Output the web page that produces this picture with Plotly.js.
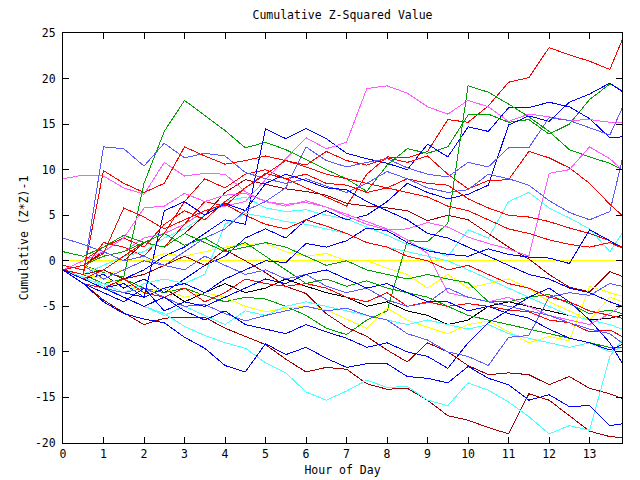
<!DOCTYPE html>
<html><head><meta charset="utf-8">
<script src="https://cdn.plot.ly/plotly-3.0.1.min.js"></script>
<style>
html,body{margin:0;padding:0;background:#fff;}
#chart{width:640px;height:480px;}
.scatterlayer path.js-line{shape-rendering:crispEdges;}
</style></head><body><div id="chart"></div>
<script>
const hours = [0,0.5,1,1.5,2,2.5,3,3.5,4,4.5,5,5.5,6,6.5,7,7.5,8,8.5,9,9.5,10,10.5,11,11.5,12,12.5,13,13.5,13.8];
const xTickVals = [0,1,2,3,4,5,6,7,8,9,10,11,12,13];
const xTickText = ['0','1','2','3','4','5','6','7','8','9','10','11','12','13'];
const yTickVals = [-20,-15,-10,-5,0,5,10,15,20,25];
const yTickText = ['-20','-15','-10','-5','0','5','10','15','20','25'];

const yellowZero = [0,0,0,0,0,0,0,0,0,0,0,0,0,0,0,0,0,0,0,0,0,0,0,0,0,0,0,0,0];
const redTop = [-0.5,-1,2,1.5,0.5,3,6.5,9,8,9.5,10,9,8,7,6,9.5,11.4,11.3,12,15.5,15.2,17,19.6,20.1,23.4,22.6,21.9,21,24.2];
const magHigh = [-1,-0.5,0.5,1,2.5,3,4,5.5,6,6.5,8.9,11.2,13.5,12.3,13,18.9,19.2,18.4,16.9,16.1,17.6,16.9,15.3,16.1,15.8,15.4,15.5,15.2,15.2];
const greenHigh = [-1,-0.5,-1.3,-1.8,8.5,14.2,17.6,16,14.3,12.4,13,12.2,11.1,10,9,7.6,10.5,12.3,11.8,12.5,16,16.1,15.2,15.5,13.9,15,17.7,19.4,18.7];
const greenPeak = [-1,-1.5,-2.5,-2,-3,-3.5,-3,-3.8,-4.5,-4,-4.2,-5,-6,-7.4,-8.1,-6.5,-5.5,2.2,2.1,4.1,19.2,18.5,17.2,15.8,14.2,12.2,11.4,10.7,10];
const blueLow = [-1,-2.5,-4.5,-5.8,-6.4,-6.8,-8.4,-9.6,-11.5,-12.2,-9.1,-10.3,-9.5,-10.7,-11.7,-11.3,-11.3,-12.7,-12.9,-13.4,-11.6,-12.9,-13.6,-15.3,-14.7,-16,-15.9,-18.1,-17.9];
const cyanLow = [-1,-1.8,-2.8,-4,-5,-5.8,-7.2,-8.2,-9,-9.6,-11.2,-12.3,-14.4,-15.3,-14.3,-13.1,-13.9,-13.8,-15.3,-15.9,-13.4,-14.2,-15.5,-17.1,-19,-18.1,-18.6,-10.5,-8.7];
const darkRedLow = [-1,-2.5,-4.3,-5.7,-7,-6.3,-6.2,-6.2,-7.4,-8.3,-9.2,-10.8,-12.2,-11.7,-11.9,-13.5,-14.1,-14,-15.3,-17,-17.5,-18.3,-19,-14.6,-15.3,-17,-18.7,-19.3,-19.4];
const darkRed2 = [-1,-1.5,-1,-2,-1.5,-0.5,0.5,-0.5,1.2,0,-1.3,-2.8,-3.6,-5.8,-7.3,-8.3,-9.8,-11.1,-9,-10,-11.5,-12.5,-12.3,-12.5,-13.6,-12.7,-14,-14.6,-15.1];
const darkRedMid = [-1,-0.5,1,0,2,1.5,3,5,7.5,8.9,8.4,7.9,7.6,7.2,6.3,6,5.8,5.5,4.4,5,4.5,3,1.5,0.2,-1.5,-2.9,-3.4,-1.2,-1.7];
const blueA = [-1,-2,-1.5,-3,-2,-3.5,-2,-0.5,0.5,2.5,3.5,2.5,4.5,5.5,4.5,5,6.5,8.5,7.5,6.8,7.3,8.3,14.9,15.9,15.3,17.4,18.3,19.5,18.6];
const blueB = [-1,-1.5,-2.5,-2,-1,0.5,1.5,3,4.5,4,14.5,13.4,14.5,13.4,11.8,11.2,10.7,10,12.8,11.4,14.7,14.2,16.8,16.8,17.4,16.9,15.6,13.5,13.6];
const lightBlue1 = [-1,-1.5,12.5,12.3,10.4,12.9,11.3,11.8,11.5,9.7,9,8.5,9,8.2,7.5,8.5,9.8,9,8,7.5,7.8,9.5,9,8.3,6.6,5.3,4.5,5.4,11];
const lightBlue2 = [-1,-0.5,-2,-1,0,-0.5,1,2.5,3.5,5.5,6.5,8,12.5,11,10.3,10.8,11.2,10.2,9.5,9.2,10.8,10.3,12.4,12.4,15.7,15.4,14.6,13.8,16.7];
const magStart9 = [9,9.4,9.3,8,7.3,10.8,9.3,9.6,9.5,7.6,6.5,6.2,6.4,5.9,4.9,4,3.4,3.5,4.2,3.7,2.6,1.9,1.3,0.5,9.6,10,12.5,11.2,10];
const magMid = [-1,0,1,2.5,5.8,6,7.4,6.5,7.2,7.4,6.5,6,6.6,5.9,5.1,4.3,3.5,2.3,0.8,-3.5,-4,-4.5,-4,-5,-6,-6.5,-7,-5.8,-4.9];
const cyanA = [-1,-1.5,-0.5,0.5,1,2.5,3.5,5,6.5,7,5.8,5.4,5.6,5,4.6,3.7,2.8,1.8,1.3,0.5,3.4,2.5,6.5,7.5,5.8,4.7,3.5,1,3];
const cyanB = [-1,-2,-2.5,-3.5,-2.5,-2,-2.5,-1.5,4,5.2,4.8,4.3,4,3.5,3,2,1.5,1,0.5,0,-1,-2,-3,-4,-5,-6,-6.5,-7,-7.5];
const cyanC = [-1,-2,-3,-4,-5,-6,-5,-6,-7,-5.5,-6,-5,-4.5,-5,-5.5,-6,-6.5,-7,-6.5,-7,-7.5,-7,-8,-8.5,-9,-9.5,-9,-10,-9.5];
const redB = [-1,0,1.5,2.5,1.5,4,5.5,4.5,6.5,8,9.5,11,10.5,12,11,10.5,11.3,10.8,11.5,9.5,7.9,8.8,8.9,12,11.3,10.2,8.5,6.2,5];
const redC = [-1,-2,-1,0.5,2,1.5,4,6.5,6,8,9.6,9,9.5,8.5,8.3,7.5,8,9,8.5,8.3,6.8,5.8,5,4.8,4.3,3.6,3,2.2,1.5];
const redD = [-1,-2.5,-3,-2,-3.5,-4,-3,-4.5,-3.5,-2,-2.5,-2.8,-2.5,-3,-4,-4.5,-3.5,-5,-4.5,-5,-4.7,-5,-5.4,-5.6,-6.5,-6.8,-7.8,-7.6,-8.3];
const redE = [-1,-1.5,9.9,8.5,7.5,8.5,12.5,11.5,10.6,11,11.5,11,10.3,9.5,9,8.5,8,7.5,7,6,5.5,4.5,3.5,3,2.3,1.8,1.5,2,1.4];
const redF = [-1,-0.5,0.8,5.8,4.8,3.5,4.5,5.5,6.2,5,4,3.5,4.5,3.8,3,2,1.5,0.5,0,-1,-0.5,-1.5,-2.5,-3,-4,-4.5,-5.5,-6,-6.3];
const greenC = [-1,-0.5,0.5,1,2,1.5,3,2,1,1.5,2,1.5,0.5,-0.5,0,-1,-1.5,-2,-1.5,-2,-2.4,-4.5,-4.5,-4,-3.7,-4.7,-5.8,-5.4,-5.8];
const greenE = [1,0.5,1.5,2.8,2,3,1.7,2.5,1.2,2,0.5,-1,-2.5,-2,-2.8,-2.2,-3,-3.5,-4,-5,-6,-6.5,-7,-7.5,-8,-8.5,-9,-9.5,-9.5];
const blackLine = [-1,-1.5,-2.5,-2,-3.5,-3,-4.5,-3.5,-2.5,-3.5,-3,-2,-2.8,-3.5,-4,-5,-4.5,-5.5,-6,-7,-6.5,-5,-4.5,-5,-5.5,-6,-6.5,-6.3,-6];
const yellowB = [-1,-1.5,-2,-2.5,-3.5,-3,-4,-3.5,-4,-5,-5.6,-5.2,-5,-5.4,-6.4,-7.4,-5.2,-6.5,-7.3,-8,-7,-6.6,-7.8,-9,-8.3,-8.8,-2.8,-3.5,-3.9];
const yellowC = [-1,-0.5,-1.5,-1,0,0.8,0.5,1,1.5,1.8,1.9,1,0.5,0.8,0,0,-0.8,-1.5,-3,-1.5,-3,-2.5,-2,-3,-4.5,-5.5,-6.5,-4,-4.5];
const blueC = [-1,-2,-3,-3.5,-4,5.5,6.5,5,6.3,5.5,8.5,9.5,8.8,8,7.8,6.5,5.5,4.5,3,2.5,1.5,0.5,-0.5,-1.5,-2,-3,-3.5,-4.5,-5];
const blueD = [-1,-2,-3,-2.5,-4,-3,-2.5,-3.5,-2,-1,0,-0.2,1.9,1.5,2.2,3.6,3.3,2,1.1,0.7,0.5,1.3,0.7,0.4,0.3,-0.3,3.4,2.2,1.4];
const blueF = [-1,-2,-3,-4,-5,-4,-5.5,-6.5,-5.5,-7,-7.5,-8,-7,-7.8,-8.5,-9.5,-9,-10,-10.5,-11.8,-9,-6.8,-5.4,-4,-3,-4.5,-6.5,-9,-11.2];
const lightBlue3 = [-1,-2,-3,-3.5,-3,-4,-5,-4.8,-5.8,-6.6,-6,-5.5,-5,-5.5,-5.2,-6,-6.5,-8,-8.7,-10,-10.5,-11.5,-8.4,-8.2,-4,-3.5,-3.8,-2.5,-2.8];
const lightBlue4 = [2.5,1.8,1,0,0.5,-0.5,-1,0.5,-0.5,-1.5,-1,-2,-1.5,-2.8,-3.5,-3,-4.3,-5,-4.6,-3,-4,-4.5,-5,-5.5,-6,-6.8,-7.5,-8,-9];
const blueG = [-1,-2.5,-3.5,-4.5,-3,-5.5,-4.5,-5,-4,-3,-2,-2.5,-1.5,-1,-2,-3,-2.5,-3.5,-4.5,-4.5,-5.5,-5,-5.8,-6.3,-7.5,-8.5,-9,-9.8,-9.2];

const RED='#ff0000', GREEN='#00a000', BLUE='#0000ff', LBLUE='#5a5aff', MAG='#ff5cff', CYAN='#4cffff', DRED='#a00000', YEL='#ffff00', BLK='#000000';

const series = [
  [yellowZero, YEL], [redTop, RED], [greenHigh, GREEN], [blueB, BLUE], [magHigh, MAG], [cyanA, CYAN], [darkRedMid, DRED],
  [yellowC, YEL], [blackLine, BLK], [redB, RED], [greenPeak, GREEN], [blueA, BLUE], [magStart9, MAG], [cyanB, CYAN], [darkRed2, DRED],
  [yellowB, YEL], [lightBlue1, LBLUE], [redC, RED], [greenC, GREEN], [blueC, BLUE], [magMid, MAG], [cyanC, CYAN], [darkRedLow, DRED],
  [lightBlue2, LBLUE], [redD, RED], [greenE, GREEN], [blueD, BLUE], [cyanLow, CYAN], [lightBlue3, LBLUE], [redE, RED],
  [blueF, BLUE], [lightBlue4, LBLUE], [redF, RED], [blueG, BLUE], [blueLow, BLUE]
];

const traces = series.map(([vals, col]) => ({
  x: hours, y: vals, type: 'scatter', mode: 'lines',
  line: {color: col, width: 1}, hoverinfo: 'skip'
}));

const font = {family: '"DejaVu Sans Mono", monospace', size: 11.5, color: '#000'};
const axisCommon = {
  ticks: 'inside', ticklen: 6, tickwidth: 1, tickcolor: '#000',
  showline: true, linecolor: '#000', linewidth: 1, mirror: 'ticks',
  showgrid: false, zeroline: false, tickfont: font, automargin: false
};
const layout = {
  width: 640, height: 480,
  margin: {l: 63, r: 18, t: 33, b: 37, pad: 0},
  paper_bgcolor: '#fff', plot_bgcolor: '#fff',
  showlegend: false, font: font,
  title: {text: 'Cumulative Z-Squared Value', font: font, x: 0.5, xref: 'paper', xanchor: 'center',
          y: 1 - 15/480, yref: 'container', yanchor: 'middle'},
  xaxis: Object.assign({}, axisCommon, {range: [0, 13.8], tickmode: 'array', tickvals: xTickVals, ticktext: xTickText,
          title: {text: 'Hour of Day', font: font, standoff: 6}}),
  yaxis: Object.assign({}, axisCommon, {range: [-20, 25], tickmode: 'array', tickvals: yTickVals, ticktext: yTickText,
          ticklabelstandoff: 4,
          title: {text: 'Cumulative (Z*Z)-1', font: font, standoff: 3}})
};
Plotly.newPlot('chart', traces, layout, {staticPlot: true, displayModeBar: false});
</script></body></html>
